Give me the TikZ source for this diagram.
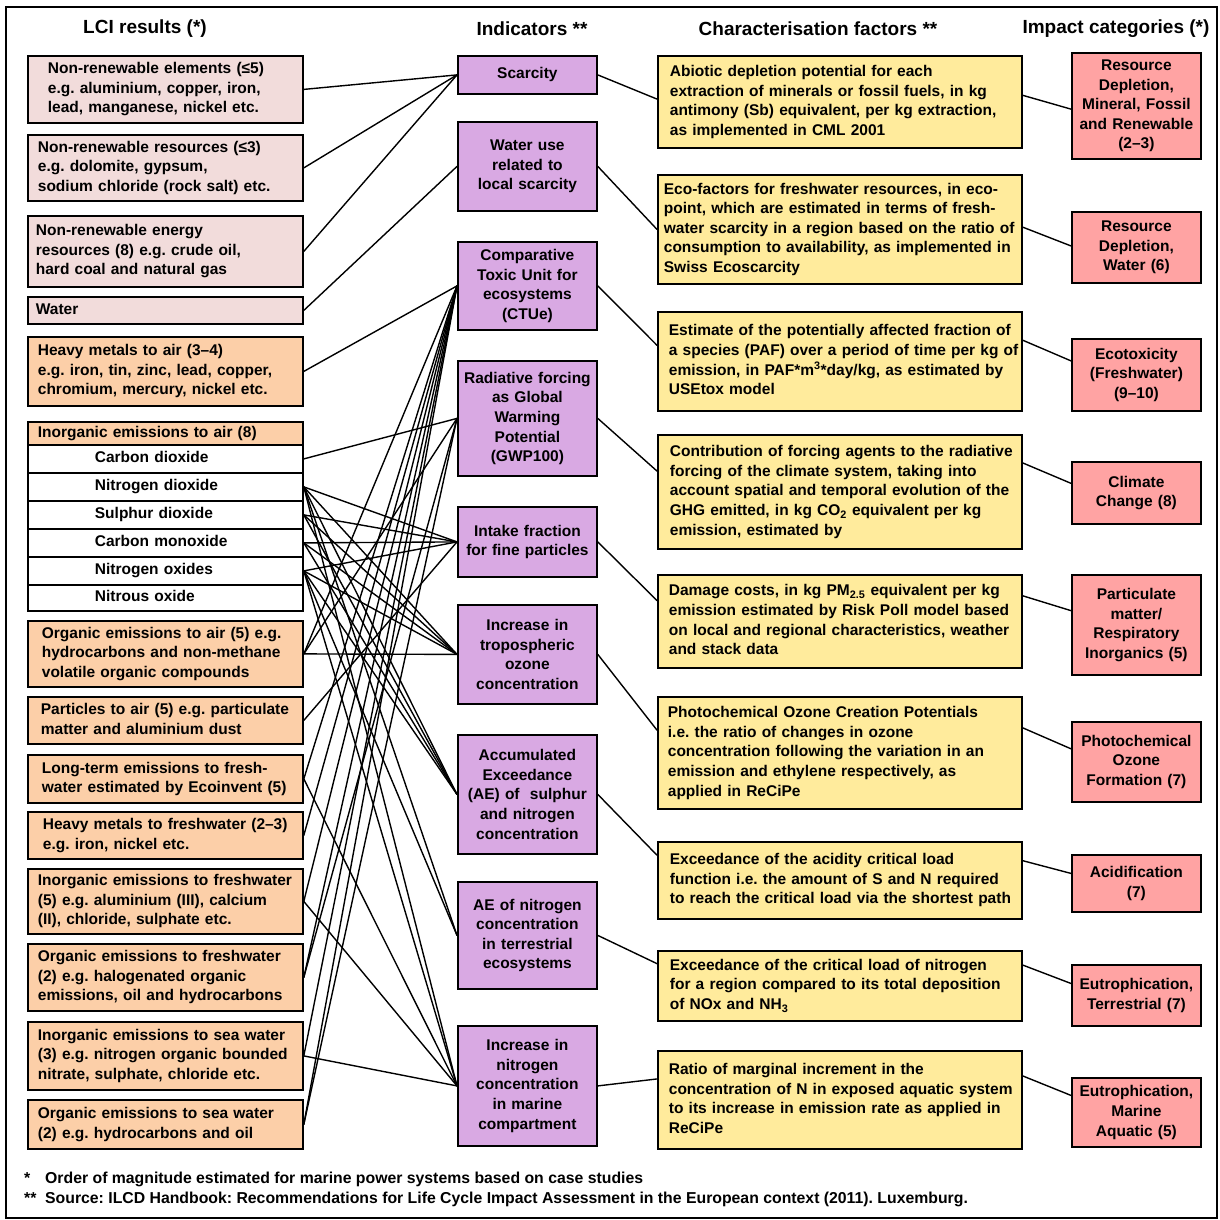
\documentclass[tikz,border=0pt]{standalone}
\usepackage{fontspec}
\setmainfont{Liberation Sans}
\usetikzlibrary{calc}

\definecolor{pinkbox}{HTML}{F2DCDB}
\definecolor{peach}{HTML}{FCCFA8}
\definecolor{lilac}{HTML}{D9A9E3}
\definecolor{sand}{HTML}{FFEB9C}
\definecolor{rose}{HTML}{FFA3A3}

% flush-left block of lines, indented from the box edge
\newcommand\padded[2]{\noindent\hspace*{#1pt}\begin{tabular}{@{}l@{}}#2\end{tabular}}
\newcommand\bodyfont{\fontsize{15.5}{19.6}\selectfont\bfseries\frenchspacing}
\newcommand\notefont{\fontsize{15.8}{19.6}\selectfont\bfseries\frenchspacing}
\newcommand\headfont{\fontsize{19}{23}\selectfont\bfseries}

\begin{document}
\begin{tikzpicture}[x=1pt,y=-1pt,
  box/.style={draw=black, line width=1.8pt, anchor=north west, inner xsep=0pt, inner ysep=2pt, font=\bodyfont},
  lci/.style={box, fill=pinkbox, text width=275pt, align=left},
  emis/.style={box, fill=peach, text width=275pt, align=left},
  gas/.style={box, fill=white, text width=275pt, align=left, minimum height=28pt},
  ind/.style={box, fill=lilac, text width=139pt, align=center},
  cf/.style={box, fill=sand, text width=364pt, align=left},
  imp/.style={box, fill=rose, text width=129pt, align=center},
  head/.style={font=\headfont, inner sep=0pt},
  note/.style={font=\notefont, anchor=west, inner sep=0pt},
  link/.style={line width=1.4pt, line cap=round}
]
\useasboundingbox (0,0) rectangle (1219,1220);
\draw[line width=1.8pt] (6,7) rectangle (1217,1218);

% column headings
\node[head] (h1) at (145,29) {LCI results (*)};
\node[head] (h2) at (532,29) {Indicators **};
\node[head] (h3) at (818,29) {Characterisation factors **};
\node[head] (h4) at (1116,29) {Impact categories (*)};

% LCI results
\node[lci, minimum height=67pt] (l1) at (27,55) {\padded{20}{Non-renewable elements (≤5)\\e.g. aluminium, copper, iron,\\lead, manganese, nickel etc.}};
\node[lci, minimum height=66pt] (l2) at (27,134) {\padded{10}{Non-renewable resources (≤3)\\e.g. dolomite, gypsum,\\sodium chloride (rock salt) etc.}};
\node[lci, minimum height=71pt] (l3) at (27,215) {\padded{8}{Non-renewable energy\\resources (8) e.g. crude oil,\\hard coal and natural gas}};
\node[lci, minimum height=27pt] (l4) at (27,296) {\padded{8}{Water}};
\node[emis, minimum height=69pt] (l5) at (27,336) {\padded{10}{Heavy metals to air (3--4)\\e.g. iron, tin, zinc, lead, copper,\\chromium, mercury, nickel etc.}};
\node[emis, minimum height=23pt] (l6) at (27,421) {\padded{10}{Inorganic emissions to air (8)}};
\node[gas] (g1) at (27,444) {\padded{67}{Carbon dioxide}};
\node[gas] (g2) at (27,472) {\padded{67}{Nitrogen dioxide}};
\node[gas] (g3) at (27,500) {\padded{67}{Sulphur dioxide}};
\node[gas] (g4) at (27,528) {\padded{67}{Carbon monoxide}};
\node[gas] (g5) at (27,556) {\padded{67}{Nitrogen oxides}};
\node[gas, minimum height=26pt] (g6) at (27,584) {\padded{67}{Nitrous oxide}};
\node[emis, minimum height=66pt] (l7) at (27,620) {\padded{14}{Organic emissions to air (5) e.g.\\hydrocarbons and non-methane\\volatile organic compounds}};
\node[emis, minimum height=47pt] (l8) at (27,696) {\padded{13}{Particles to air (5) e.g. particulate\\matter and aluminium dust}};
\node[emis, minimum height=48pt] (l9) at (27,754) {\padded{14}{Long-term emissions to fresh-\\water estimated by Ecoinvent (5)}};
\node[emis, minimum height=47pt] (l10) at (27,811) {\padded{15}{Heavy metals to freshwater (2--3)\\e.g. iron, nickel etc.}};
\node[emis, minimum height=65pt] (l11) at (27,868) {\padded{10}{Inorganic emissions to freshwater\\(5) e.g. aluminium (III), calcium\\(II), chloride, sulphate etc.}};
\node[emis, minimum height=67pt] (l12) at (27,943) {\padded{10}{Organic emissions to freshwater\\(2) e.g. halogenated organic\\emissions, oil and hydrocarbons}};
\node[emis, minimum height=68pt] (l13) at (27,1021) {\padded{10}{Inorganic emissions to sea water\\(3) e.g. nitrogen organic bounded\\nitrate, sulphate, chloride etc.}};
\node[emis, minimum height=49pt] (l14) at (27,1099) {\padded{10}{Organic emissions to sea water\\(2) e.g. hydrocarbons and oil}};

% indicators
\node[ind, minimum height=38pt] (i1) at (457,55) {Scarcity};
\node[ind, minimum height=89pt] (i2) at (457,121) {Water use\\related to\\local scarcity};
\node[ind, minimum height=88pt] (i3) at (457,241) {Comparative\\Toxic Unit for\\ecosystems\\(CTUe)};
\node[ind, minimum height=115pt] (i4) at (457,360) {Radiative forcing\\as Global\\Warming\\Potential\\(GWP100)};
\node[ind, minimum height=70pt] (i5) at (457,506) {Intake fraction\\for fine particles};
\node[ind, minimum height=99pt] (i6) at (457,604) {Increase in\\tropospheric\\ozone\\concentration};
\node[ind, minimum height=119pt] (i7) at (457,734) {Accumulated\\Exceedance\\(AE) of \ sulphur\\and nitrogen\\concentration};
\node[ind, minimum height=107pt] (i8) at (457,881) {AE of nitrogen\\concentration\\in terrestrial\\ecosystems};
\node[ind, minimum height=120pt] (i9) at (457,1025) {Increase in\\nitrogen\\concentration\\in marine\\compartment};

% characterisation factors
\node[cf, minimum height=92pt] (c1) at (657,55) {\padded{12}{Abiotic depletion potential for each\\extraction of minerals or fossil fuels, in kg\\antimony (Sb) equivalent, per kg extraction,\\as implemented in CML 2001}};
\node[cf, minimum height=109pt] (c2) at (657,174) {\padded{6}{Eco-factors for freshwater resources, in eco-\\point, which are estimated in terms of fresh-\\water scarcity in a region based on the ratio of\\consumption to availability, as implemented in\\Swiss Ecoscarcity}};
\node[cf, minimum height=99pt] (c3) at (657,311) {\padded{11}{Estimate of the potentially affected fraction of\\a species (PAF) over a period of time per kg of\\emission, in PAF*m\textsuperscript{3}*day/kg, as estimated by\\USEtox model}};
\node[cf, minimum height=114pt] (c4) at (657,434) {\padded{12}{Contribution of forcing agents to the radiative\\forcing of the climate system, taking into\\account spatial and temporal evolution of the\\GHG emitted, in kg CO\textsubscript{2} equivalent per kg\\emission, estimated by}};
\node[cf, minimum height=93pt] (c5) at (657,574) {\padded{11}{Damage costs, in kg PM\textsubscript{2.5} equivalent per kg\\emission estimated by Risk Poll model based\\on local and regional characteristics, weather\\and stack data}};
\node[cf, minimum height=112pt] (c6) at (657,696) {\padded{10}{Photochemical Ozone Creation Potentials\\i.e. the ratio of changes in ozone\\concentration following the variation in an\\emission and ethylene respectively, as\\applied in ReCiPe}};
\node[cf, minimum height=77pt] (c7) at (657,841) {\padded{12}{Exceedance of the acidity critical load\\function i.e. the amount of S and N required\\to reach the critical load via the shortest path}};
\node[cf, minimum height=70pt] (c8) at (657,950) {\padded{12}{Exceedance of the critical load of nitrogen\\for a region compared to its total deposition\\of NOx and NH\textsubscript{3}}};
\node[cf, minimum height=98pt] (c9) at (657,1050) {\padded{11}{Ratio of marginal increment in the\\concentration of N in exposed aquatic system\\to its increase in emission rate as applied in\\ReCiPe}};

% impact categories
\node[imp, minimum height=106pt] (p1) at (1071,52) {Resource\\Depletion,\\Mineral, Fossil\\and Renewable\\(2--3)};
\node[imp, minimum height=71pt] (p2) at (1071,211) {Resource\\Depletion,\\Water (6)};
\node[imp, minimum height=72pt] (p3) at (1071,338) {Ecotoxicity\\(Freshwater)\\(9--10)};
\node[imp, minimum height=62pt] (p4) at (1071,461) {Climate\\Change (8)};
\node[imp, minimum height=100pt] (p5) at (1071,574) {Particulate\\matter/\\Respiratory\\Inorganics (5)};
\node[imp, minimum height=80pt] (p6) at (1071,721) {Photochemical\\Ozone\\Formation (7)};
\node[imp, minimum height=57pt] (p7) at (1071,854) {Acidification\\(7)};
\node[imp, minimum height=61pt] (p8) at (1071,964) {Eutrophication,\\Terrestrial (7)};
\node[imp, minimum height=69pt] (p9) at (1071,1077) {Eutrophication,\\Marine\\Aquatic (5)};

% footnotes
\node[note] (n1) at (24,1179) {\makebox[21pt][l]{*}Order of magnitude estimated for marine power systems based on case studies};
\node[note] (n2) at (24,1199) {\makebox[21pt][l]{**}Source: ILCD Handbook: Recommendations for Life Cycle Impact Assessment in the European context (2011). Luxemburg.};

% LCI results to indicators
\foreach \a/\b in {l1/i1, l2/i1, l3/i1, l4/i2,
  l5/i3, l7/i3, l9/i3, l10/i3, l11/i3, l12/i3, l13/i3, l14/i3,
  g1/i4, l7/i4, l12/i4, l14/i4,
  g2/i5, g3/i5, g4/i5, g5/i5, l8/i5,
  g2/i6, g3/i6, g4/i6, g5/i6, l7/i6,
  g2/i7, g3/i7, g4/i7, g5/i7,
  g2/i8, g5/i8,
  g2/i9, g5/i9, l9/i9, l11/i9, l13/i9}
  \draw[link] (\a.east) -- (\b.west);

% indicators to characterisation factors
\foreach \a/\b/\f in {i1/c1/0.47, i2/c2/0.5, i3/c3/0.34, i4/c4/0.32, i5/c5/0.28,
  i6/c6/0.30, i7/c7/0.18, i8/c8/0.19, i9/c9/0.29}
  \draw[link] (\a.east) -- ($(\b.north west)!\f!(\b.south west)$);

% characterisation factors to impact categories
\foreach \a/\f/\b/\g in {c1/0.43/p1/0.53, c2/0.48/p2/0.48, c3/0.29/p3/0.31, c4/0.25/p4/0.35,
  c5/0.23/p5/0.36, c6/0.28/p6/0.34, c7/0.25/p7/0.33, c8/0.21/p8/0.31, c9/0.26/p9/0.26}
  \draw[link] ($(\a.north east)!\f!(\a.south east)$) -- ($(\b.north west)!\g!(\b.south west)$);
\end{tikzpicture}
\end{document}
